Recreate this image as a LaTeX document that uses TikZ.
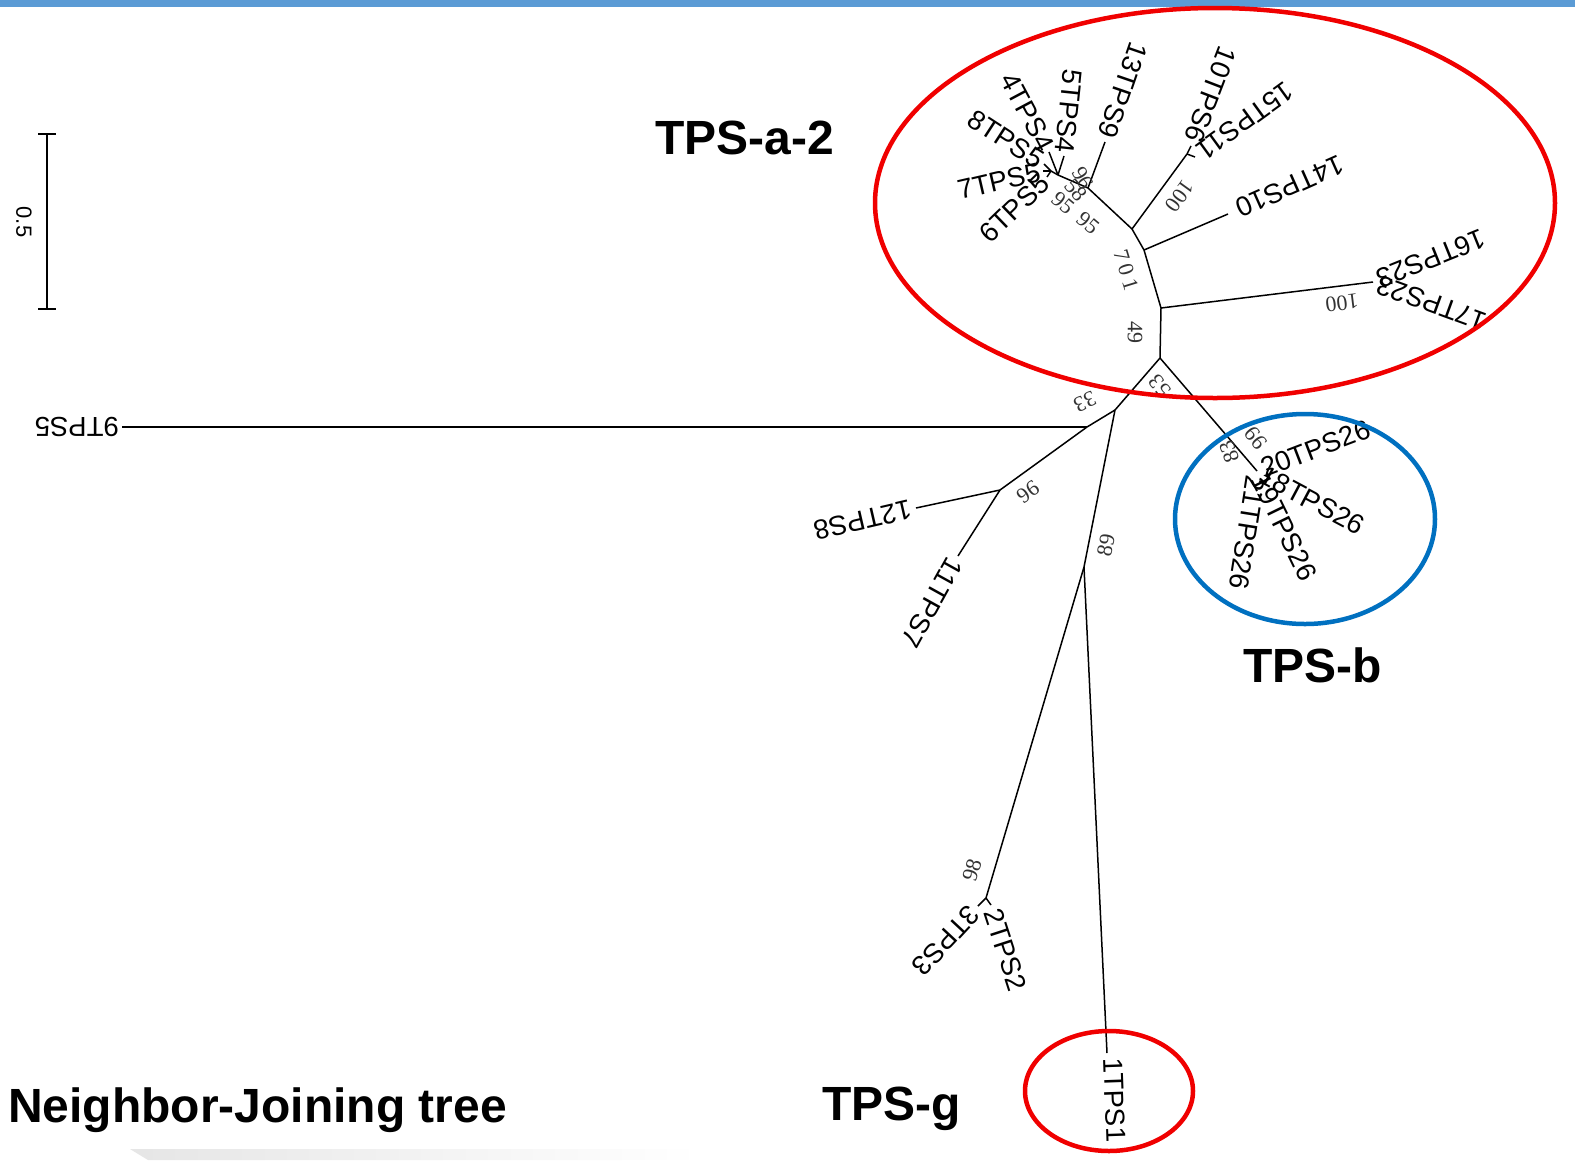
\documentclass[tikz,border=0pt]{standalone}
\usepackage{fontspec}
\setmainfont{Liberation Sans}
\newfontfamily\serifnums{Liberation Serif}
\definecolor{topbar}{RGB}{91,155,213}
\definecolor{ringred}{RGB}{240,0,0}
\definecolor{ringblue}{RGB}{0,112,192}
\tikzset{
  branch/.style={line width=1.5pt, draw=black},
  leaf/.style={font=\fontsize{27.5}{30}\selectfont, inner ysep=3pt, inner xsep=5pt},
  boot/.style={font=\serifnums\fontsize{22}{24}\selectfont, text=black!80, inner sep=0pt},
  grp/.style={font=\bfseries\fontsize{48}{50}\selectfont, inner sep=0pt, anchor=base west},
  ring/.style={line width=4.5pt},
}
\begin{document}
\begin{tikzpicture}[x=1pt,y=-1pt]
\useasboundingbox (0,0) rectangle (1575,1160);
\fill[white] (0,0) rectangle (1575,1160);
\fill[topbar] (0,0) rectangle (1575,7);
\shade[left color=black!10, right color=white] (130,1149) -- (700,1149) -- (700,1160) -- (148,1160) -- cycle;

% scale bar
\coordinate (sb1) at (47,134);
\coordinate (sb2) at (47,309);
\draw[branch] (sb1) -- (sb2);
\draw[branch] ([xshift=-9pt]sb1) -- ([xshift=9pt]sb1);
\draw[branch] ([xshift=-9pt]sb2) -- ([xshift=9pt]sb2);
\node[font=\fontsize{22}{24}\selectfont, rotate=-90, inner sep=0pt] (sblab) at (24,222) {0.5};

% tree coordinates
\coordinate (A) at (1160,358);
\coordinate (B) at (1161,308);
\coordinate (C) at (1373,282);
\coordinate (D) at (1144,250);
\coordinate (t14) at (1228,214);
\coordinate (E) at (1132,229);
\coordinate (F) at (1187,154);
\coordinate (t10) at (1191,146);
\coordinate (t15) at (1195,157);
\coordinate (G) at (1088,188);
\coordinate (t13) at (1105,142);
\coordinate (H) at (1058,175);
\coordinate (t4) at (1049,152);
\coordinate (t5) at (1064,156);
\coordinate (H2) at (1051,171);
\coordinate (t8) at (1044,164);
\coordinate (t7) at (1043,171);
\coordinate (t6) at (1047,177);
\coordinate (Q) at (1257,471);
\coordinate (J) at (1115,410);
\coordinate (N) at (1087,427);
\coordinate (t9) at (122,427);
\coordinate (M) at (1000,490);
\coordinate (t12) at (916,508);
\coordinate (t11) at (958,556);
\coordinate (K) at (1084,567);
\coordinate (P) at (986,898);
\coordinate (t3) at (978,906);
\coordinate (t2) at (991,905);
\coordinate (t1) at (1107,1053);
\coordinate (t1l) at (1113,1053);

% branches
\draw[branch] (A) -- (B);
\draw[branch] (B) -- (C);
\draw[branch] (B) -- (D);
\draw[branch] (D) -- (t14);
\draw[branch] (D) -- (E);
\draw[branch] (E) -- (F);
\draw[branch] (F) -- (t10);
\draw[branch] (F) -- (t15);
\draw[branch] (E) -- (G);
\draw[branch] (G) -- (t13);
\draw[branch] (G) -- (H);
\draw[branch] (H) -- (t4);
\draw[branch] (H) -- (t5);
\draw[branch] (H) -- (H2);
\draw[branch] (H2) -- (t8);
\draw[branch] (H2) -- (t7);
\draw[branch] (H2) -- (t6);
\draw[branch] (A) -- (Q);
\draw[branch] (A) -- (J);
\draw[branch] (J) -- (N);
\draw[branch] (N) -- (t9);
\draw[branch] (N) -- (M);
\draw[branch] (M) -- (t12);
\draw[branch] (M) -- (t11);
\draw[branch] (J) -- (K);
\draw[branch] (K) -- (P);
\draw[branch] (P) -- (t3);
\draw[branch] (P) -- (t2);
\draw[branch] (K) -- (t1);

% leaf labels
\node[leaf, rotate=180, anchor=west, inner xsep=3pt] (l9) at (t9) {9TPS5};
\node[leaf, rotate=193, anchor=west] (l12) at (t12) {12TPS8};
\node[leaf, rotate=241, anchor=west] (l11) at (t11) {11TPS7};
\node[leaf, rotate=227, anchor=west] (l3) at (t3) {3TPS3};
\node[leaf, rotate=-72, anchor=west] (l2) at (t2) {2TPS2};
\node[leaf, rotate=-88, anchor=west] (l1) at (t1l) {1TPS1};
\node[leaf, rotate=21, anchor=west] (l20) at (Q) {20TPS26};
\node[leaf, rotate=-28, anchor=west] (l18) at (Q) {18TPS26};
\node[leaf, rotate=-64, anchor=west] (l19) at (Q) {19TPS26};
\node[leaf, rotate=-99, anchor=west] (l21) at (Q) {21TPS26};
\node[leaf, rotate=202, anchor=east] (l16) at (C) {16TPS23};
\node[leaf, rotate=160, anchor=east] (l17) at (C) {17TPS23};
\node[leaf, rotate=204, anchor=east, inner xsep=10pt] (l14) at (t14) {14TPS10};
\node[leaf, rotate=249, anchor=east] (l10) at (t10) {10TPS6};
\node[leaf, rotate=216, anchor=east] (l15) at (t15) {15TPS11};
\node[leaf, rotate=251, anchor=east] (l13) at (t13) {13TPS9};
\node[leaf, rotate=-96, anchor=east, inner xsep=3pt] (l5) at (t5) {5TPS4};
\node[leaf, rotate=-62, anchor=east, inner xsep=3pt] (l4) at (t4) {4TPS4};
\node[leaf, rotate=-33, anchor=east, inner xsep=3pt] (l8) at (t8) {8TPS5};
\node[leaf, rotate=13, anchor=east, inner xsep=3pt] (l7) at (t7) {7TPS5};
\node[leaf, rotate=44, anchor=east, inner xsep=3pt] (l6) at (t6) {6TPS5};

% bootstrap values
\node[boot, rotate=234] (b1) at (1180,196) {100};
\node[boot, rotate=-40] (b2) at (1063,203) {95};
\node[boot, rotate=-40] (b3) at (1088,223) {95};
\node[boot, rotate=-60] (b4) at (1083,178) {96};
\node[boot, rotate=-50] (b5) at (1076,190) {58};
\node[boot, rotate=-73] (b6) at (1126,270) {7\kern4pt0\kern4pt1};
\node[boot, rotate=-90] (b7) at (1135,332) {49};
\node[boot, rotate=128] (b8) at (1160,386) {53};
\node[boot, rotate=205] (b9) at (1085,402) {33};
\node[boot, rotate=215] (b10) at (1028,492) {96};
\node[boot, rotate=79] (b11) at (1106,545) {89};
\node[boot, rotate=73] (b12) at (972,870) {98};
\node[boot, rotate=128] (b13) at (1256,438) {99};
\node[boot, rotate=110] (b14) at (1229,452) {83};
\node[boot, rotate=187] (b15) at (1342,303) {100};

% group rings
\draw[ring, ringred] (1215,203) ellipse [x radius=340, y radius=195];
\draw[ring, ringblue] (1305,519) ellipse [x radius=130, y radius=105];
\draw[ring, ringred] (1109,1091) ellipse [x radius=84, y radius=60];

% group labels
\node[grp] (ga) at (655,154) {TPS-a-2};
\node[grp] (gb) at (1243,682) {TPS-b};
\node[grp] (gg) at (822,1120) {TPS-g};
\node[grp] (nj) at (8,1122) {Neighbor-Joining tree};
\end{tikzpicture}
\end{document}
